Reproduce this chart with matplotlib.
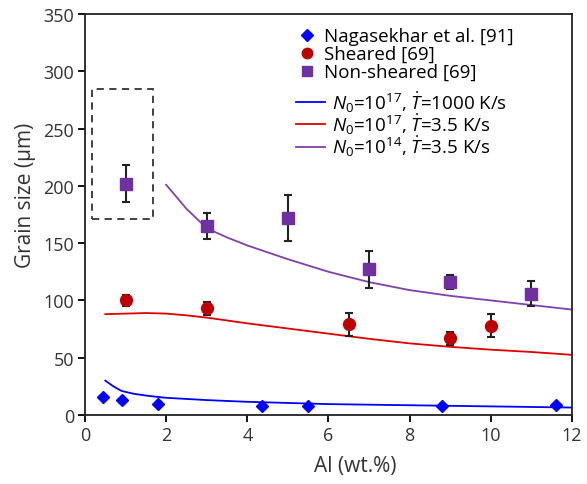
import matplotlib
matplotlib.use("Agg")
import matplotlib.pyplot as plt
from matplotlib.patches import Rectangle
from matplotlib.lines import Line2D

plt.rcParams['font.family'] = ['Open Sans', 'DejaVu Sans']
plt.rcParams['mathtext.fontset'] = 'custom'
plt.rcParams['mathtext.rm'] = 'Open Sans'
plt.rcParams['mathtext.it'] = 'Open Sans:italic'

# Experimental data
naga_x = [0.45, 0.9, 1.8, 4.35, 5.5, 8.8, 11.6]
naga_y = [16, 13, 10, 8, 7.5, 7.5, 8.5]

sheared_x = [1, 3, 6.5, 9, 10]
sheared_y = [100, 93, 79, 67, 78]
sheared_err = [5, 6, 10, 5.5, 10]

nonsh_x = [1, 3, 5, 7, 9, 11]
nonsh_y = [202, 165, 172, 127, 116, 106]
nonsh_err = [16, 11, 20, 16, 6, 11]

# Model curves
blue_x = [0.5, 0.7, 0.9, 1.2, 1.6, 2, 3, 4, 5, 6, 7, 8, 9, 10, 11, 12]
blue_y = [30, 25, 21, 18.5, 16.5, 15, 13, 11.5, 10.5, 9.5, 9, 8.5, 8, 7.5, 7, 6.5]

red_x = [0.5, 1, 1.5, 2, 2.5, 3, 4, 5, 6, 7, 8, 9, 10, 11, 12]
red_y = [88, 88.5, 89, 88.5, 87, 85, 80, 75.5, 71, 66.5, 62.5, 59.5, 57, 55, 52.5]

purple_x = [2, 2.5, 3, 3.5, 4, 5, 6, 7, 8, 9, 10, 11, 12]
purple_y = [201, 180, 163, 155, 148, 136, 125, 116, 109, 104, 100, 96, 92]

BLUE = '#0000FF'
RED_M = '#C00000'
RED_L = '#E00000'
PURPLE = '#7030A0'
PURPLE_L = '#8040B0'

fig = plt.figure(figsize=(5.87, 4.85), dpi=100)
ax = fig.add_axes([0.1448, 0.1423, 0.8296, 0.8267])

ax.plot(blue_x, blue_y, color=BLUE, lw=1.3)
ax.plot(red_x, red_y, color=RED_L, lw=1.3)
ax.plot(purple_x, purple_y, color=PURPLE_L, lw=1.3)

ax.errorbar(sheared_x, sheared_y, yerr=sheared_err, fmt='none', ecolor='#222222',
            elinewidth=1.5, capsize=3, capthick=1.5, zorder=3)
ax.errorbar(nonsh_x, nonsh_y, yerr=nonsh_err, fmt='none', ecolor='#222222',
            elinewidth=1.5, capsize=3, capthick=1.5, zorder=3)

ax.plot(naga_x, naga_y, 'D', color=BLUE, ms=6.5, ls='none', zorder=4)
ax.plot(sheared_x, sheared_y, 'o', color=RED_M, ms=8.5, ls='none', zorder=4)
ax.plot(nonsh_x, nonsh_y, 's', color=PURPLE, ms=9, ls='none', zorder=4)

ax.add_patch(Rectangle((0.18, 171), 1.5, 113.5, fill=False, ls=(0, (4, 3)),
                       lw=1.3, ec='#333333', zorder=2))

ax.set_xlim(0, 12)
ax.set_ylim(0, 350)
ax.set_xticks(range(0, 13, 2))
ax.set_yticks(range(0, 351, 50))
ax.tick_params(axis='both', direction='out', length=5, width=1.3,
               labelsize=13, colors='black', labelcolor='#333333', pad=3)
for s in ax.spines.values():
    s.set_linewidth(1.3)
    s.set_color('#222222')

ax.set_xlabel('Al (wt.%)', fontsize=15, color='#333333')
ax.set_ylabel('Grain size (\u03bcm)', fontsize=15, color='#333333')
ax.xaxis.set_label_coords(0.555, -0.1)
ax.yaxis.set_label_coords(-0.10, 0.55)

h1 = [Line2D([], [], marker='D', color=BLUE, ls='none', ms=6),
      Line2D([], [], marker='o', color=RED_M, ls='none', ms=7.5),
      Line2D([], [], marker='s', color=PURPLE, ls='none', ms=7)]
l1 = ['Nagasekhar et al. [91]', 'Sheared [69]', 'Non-sheared [69]']
leg1 = ax.legend(h1, l1, loc='upper left', bbox_to_anchor=(0.409, 1.0),
                 frameon=False, fontsize=13.5, handlelength=1.0, handletextpad=0.45,
                 labelspacing=0.0, borderaxespad=0.3)
ax.add_artist(leg1)

h2 = [Line2D([], [], color=BLUE, lw=1.3),
      Line2D([], [], color=RED_L, lw=1.3),
      Line2D([], [], color=PURPLE_L, lw=1.3)]
l2 = [r'$\mathit{N}_0$=10$^{17}$, $\dot{\mathit{T}}$=1000 K/s',
      r'$\mathit{N}_0$=10$^{17}$, $\dot{\mathit{T}}$=3.5 K/s',
      r'$\mathit{N}_0$=10$^{14}$, $\dot{\mathit{T}}$=3.5 K/s']
ax.legend(h2, l2, loc='upper left', bbox_to_anchor=(0.407, 0.845),
          frameon=False, fontsize=13.5, handlelength=1.55, handletextpad=0.35,
          labelspacing=-0.1, borderaxespad=0.3)

fig.savefig('out.png', dpi=100)
